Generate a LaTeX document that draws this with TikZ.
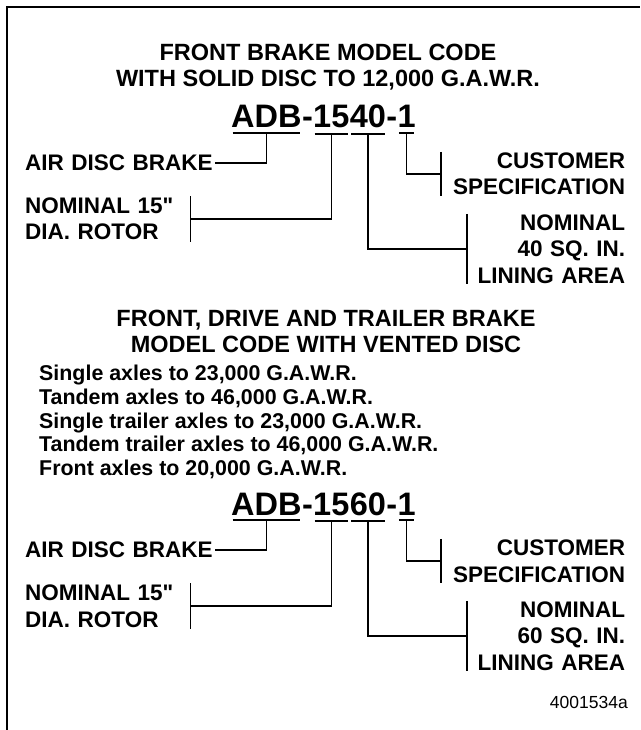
\documentclass[tikz,border=0pt]{standalone}
\usepackage{fontspec}
\setmainfont{Liberation Sans}
\newfontfamily\qfont{Liberation Sans}
\usepackage{tikz}
\usetikzlibrary{positioning}

\newcommand{\titlefont}{\fontsize{23.5}{26}\selectfont\bfseries}
\newcommand{\codefont}{\fontsize{32.5}{36}\selectfont\bfseries}
\newcommand{\lblfont}{\fontsize{22.5}{26.5}\selectfont\bfseries}
\newcommand{\notefont}{\fontsize{21.4}{23.75}\selectfont\bfseries}
\newcommand{\figfont}{\fontsize{17.5}{20}\selectfont}
\newcommand{\inch}{{\qfont"}}

\begin{document}
\begin{tikzpicture}[x=1pt, y=-1pt,
    title/.style={font=\titlefont, align=center, inner sep=0pt},
    code/.style={font=\codefont, anchor=base west, inner xsep=0pt, inner ysep=5pt},
    lleft/.style={font=\lblfont, align=left, anchor=west, inner sep=0pt},
    lright/.style={font=\lblfont, align=right, anchor=west, inner sep=0pt},
    uline/.style={line width=2pt, shorten <=1.5pt, shorten >=1.5pt},
    link/.style={line width=1.5pt},
    frame/.style={line width=2.2pt}]
    \useasboundingbox (0,0) rectangle (640,730);
    \draw[frame] (7,730) -- (7,7) -- (640,7);
    % solid disc
    \node[title] (tA) at (328,67.5) {FRONT BRAKE MODEL CODE\\WITH SOLID DISC TO 12,000 G.A.W.R.};
    \node[code] (adbA)  at (231,128)       {ADB};
    \node[code] (dshA)  at (adbA.base east) {-};
    \node[code] (rotA)  at (dshA.base east) {15};
    \node[code] (linA)  at (rotA.base east) {40};
    \node[code] (dsh2A) at (linA.base east) {-};
    \node[code] (cusA)  at (dsh2A.base east) {1};
    \node[lleft, text width=190pt] (airA) at (25,163) {AIR DISC BRAKE};
    \node[lleft, text width=165pt, minimum height=45pt] (diaA) at (25,219) {NOMINAL 15\inch\\DIA. ROTOR};
    \node[lright, text width=184pt, minimum height=44pt] (specA) at (441,174) {CUSTOMER\\SPECIFICATION};
    \node[lright, text width=158pt, minimum height=70pt] (areaA) at (467,249) {NOMINAL\\40 SQ. IN.\\LINING AREA};
    \draw[uline] (adbA.south west) -- (adbA.south east);
    \draw[uline] (rotA.south west) -- (rotA.south east);
    \draw[uline] (linA.south west) -- (linA.south east);
    \draw[uline] (cusA.south west) -- (cusA.south east);
    \draw[link] (adbA.south) |- (airA.east);
    \draw[link] (rotA.south) |- (diaA.east);
    \draw[link] (diaA.north east) -- (diaA.south east);
    \draw[link] (cusA.south) |- (specA.west);
    \draw[link] (specA.north west) -- (specA.south west);
    \draw[link] (linA.south) |- (areaA.west);
    \draw[link] (areaA.north west) -- (areaA.south west);
    % vented disc
    \node[title] (tB) at (326,331) {FRONT, DRIVE AND TRAILER BRAKE\\MODEL CODE WITH VENTED DISC};
    \node[font=\notefont, align=left, anchor=west, inner sep=0pt] (axl) at (39,422)
        {Single axles to 23,000 G.A.W.R.\\Tandem axles to 46,000 G.A.W.R.\\Single trailer axles to 23,000 G.A.W.R.\\Tandem trailer axles to 46,000 G.A.W.R.\\Front axles to 20,000 G.A.W.R.};
    \node[code] (adbB)  at (231,515)       {ADB};
    \node[code] (dshB)  at (adbB.base east) {-};
    \node[code] (rotB)  at (dshB.base east) {15};
    \node[code] (linB)  at (rotB.base east) {60};
    \node[code] (dsh2B) at (linB.base east) {-};
    \node[code] (cusB)  at (dsh2B.base east) {1};
    \node[lleft, text width=190pt] (airB) at (25,550) {AIR DISC BRAKE};
    \node[lleft, text width=165pt, minimum height=45pt] (diaB) at (25,606) {NOMINAL 15\inch\\DIA. ROTOR};
    \node[lright, text width=184pt, minimum height=44pt] (specB) at (441,561) {CUSTOMER\\SPECIFICATION};
    \node[lright, text width=158pt, minimum height=70pt] (areaB) at (467,636) {NOMINAL\\60 SQ. IN.\\LINING AREA};
    \draw[uline] (adbB.south west) -- (adbB.south east);
    \draw[uline] (rotB.south west) -- (rotB.south east);
    \draw[uline] (linB.south west) -- (linB.south east);
    \draw[uline] (cusB.south west) -- (cusB.south east);
    \draw[link] (adbB.south) |- (airB.east);
    \draw[link] (rotB.south) |- (diaB.east);
    \draw[link] (diaB.north east) -- (diaB.south east);
    \draw[link] (cusB.south) |- (specB.west);
    \draw[link] (specB.north west) -- (specB.south west);
    \draw[link] (linB.south) |- (areaB.west);
    \draw[link] (areaB.north west) -- (areaB.south west);
    \node[font=\figfont, anchor=base east, inner sep=0pt] (fig) at (628,708) {4001534a};
\end{tikzpicture}
\end{document}
